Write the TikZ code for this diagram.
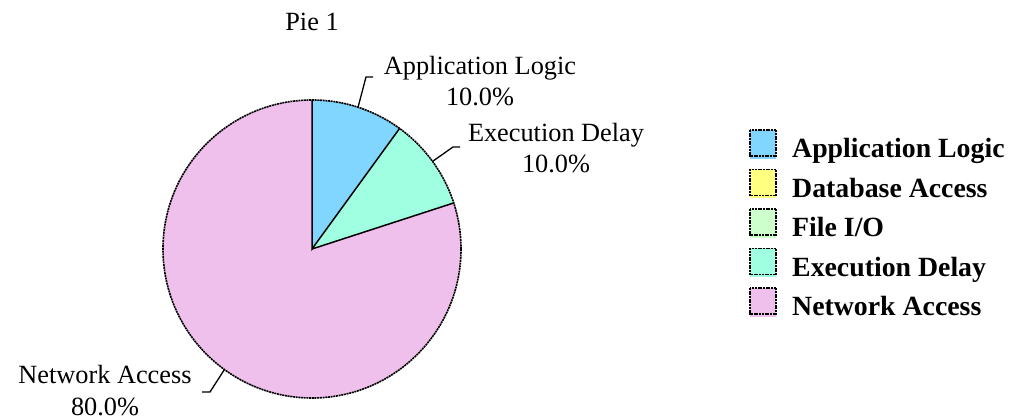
\documentclass[tikz,border=0pt]{standalone}
\usepackage{fontspec}
\setmainfont{Liberation Serif}
\usetikzlibrary{calc}
\definecolor{applogic}{RGB}{128,214,255}
\definecolor{dbaccess}{RGB}{255,255,128}
\definecolor{fileio}{RGB}{204,255,204}
\definecolor{execdelay}{RGB}{160,255,224}
\definecolor{netaccess}{RGB}{240,192,236}
\tikzset{
  rim/.style={draw=black, line width=1.6pt, dash pattern=on 2pt off 0.7pt},
  spoke/.style={draw=black, line width=1.5pt},
  leader/.style={draw=black, line width=1.3pt},
  slicelabel/.style={font=\fontsize{26.3}{31.5}\selectfont, align=center, inner sep=0pt},
  keytext/.style={font=\fontsize{27.8}{32}\bfseries\selectfont, anchor=base west, inner sep=0pt},
}
\newcommand{\keyentry}[4]{% top y, colour, name, text
  \fill[#2] (750,#1-3) rectangle ++(26,-26);
  \filldraw[fill=#2, rim] (750,#1) rectangle ++(26,-26);
  \node[keytext] (#3) at (792,#1-28) {#4};
}
\begin{document}
\begin{tikzpicture}[x=1pt, y=1pt]
\useasboundingbox (0,0) rectangle (1023,417);
\def\R{149pt}
\coordinate (c) at (312,168);
% slices, angles anticlockwise from the positive x axis
\fill[netaccess] (c) -- ($(c)+(90:\R)$) arc[start angle=90, end angle=378, radius=\R] -- cycle;
\fill[applogic] (c) -- ($(c)+(90:\R)$) arc[start angle=90, end angle=54, radius=\R] -- cycle;
\fill[execdelay] (c) -- ($(c)+(54:\R)$) arc[start angle=54, end angle=18, radius=\R] -- cycle;
% slice borders
\draw[spoke] ($(c)+(90:\R)$) -- (c) -- ($(c)+(54:\R)$);
\draw[spoke] (c) -- ($(c)+(18:\R)$);
\draw[rim] (c) circle[radius=\R];
% title
\node[font=\fontsize{26.3}{31}\selectfont] (title) at (312,395) {Pie 1};
% slice labels with leaders
\node[slicelabel] (lapp) at (480,336) {Application Logic\\10.0\%};
\node[slicelabel] (lexec) at (556,269) {Execution Delay\\10.0\%};
\node[slicelabel] (lnet) at (105,26.5) {Network Access\\80.0\%};
\coordinate (eapp) at ($(c)+(72:\R)$);
\coordinate (eexec) at ($(c)+(36:\R)$);
\coordinate (enet) at ($(c)+(-126:\R)$);
\coordinate (kapp) at (366,340);
\coordinate (kexec) at (453,270);
\coordinate (knet) at (210,25);
\draw[leader] (eapp) -- (kapp) -- ++(7,0);
\draw[leader] (eexec) -- (kexec) -- ++(7,0);
\draw[leader] (enet) -- (knet) -- ++(-8,0);
% legend
\keyentry{287}{applogic}{kapplogic}{Application Logic}
\keyentry{247.5}{dbaccess}{kdb}{Database Access}
\keyentry{208}{fileio}{kfile}{File I/O}
\keyentry{168.5}{execdelay}{kexecd}{Execution Delay}
\keyentry{129}{netaccess}{knetacc}{Network Access}
\end{tikzpicture}
\end{document}
